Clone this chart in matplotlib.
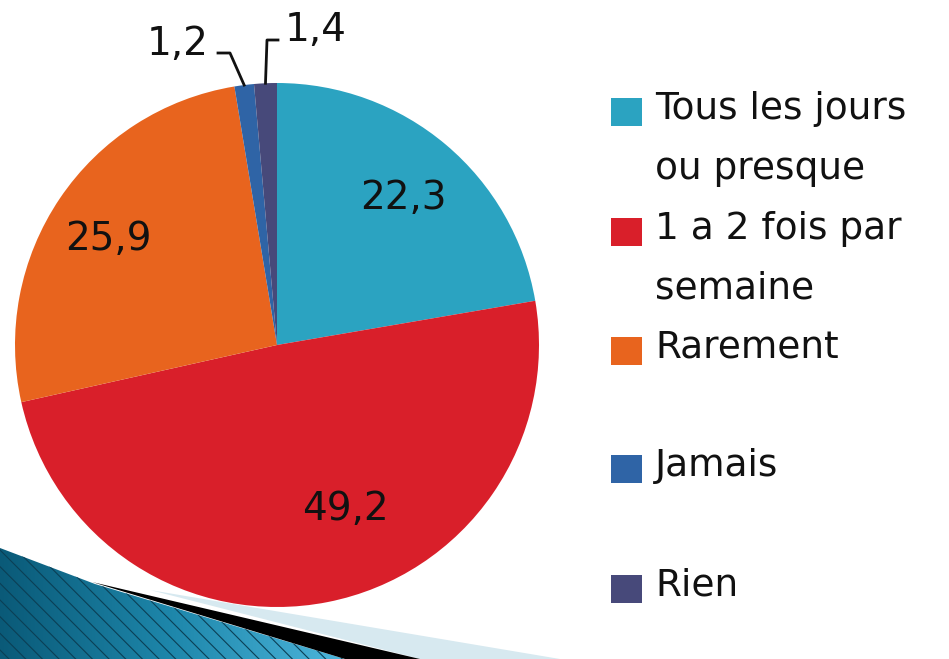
import numpy as np
import matplotlib.pyplot as plt
from matplotlib.patches import Polygon, Rectangle
from matplotlib.colors import LinearSegmentedColormap

plt.rcParams['font.family'] = ['DejaVu Sans']

# données
categories = ['Tous les jours\nou presque', '1 a 2 fois par\nsemaine', 'Rarement', 'Jamais', 'Rien']
values = [22.3, 49.2, 25.9, 1.2, 1.4]
colors = ['#2ba3c1', '#d91f2a', '#e8641e', '#2f64a6', '#47497a']

W, H = 949, 659
fig = plt.figure(figsize=(W / 100, H / 100), dpi=100)
ax = fig.add_axes([0, 0, 1, 1])

# centre et rayon du camembert (pixels)
cx, cy, r = 277, H - 345, 262

fmt = lambda v: f'{v:.1f}'.replace('.', ',')
wedges, texts = ax.pie(
    values, colors=colors, startangle=90, counterclock=False,
    center=(cx, cy), radius=r, frame=True,
    wedgeprops=dict(linewidth=0))

# étiquettes dans les grandes parts (décalage d'angle en degrés, distance relative)
place = {0: (-0.7, 0.74), 1: (11.5, 0.68), 2: (1.8, 0.76)}
for i, w in enumerate(wedges[:3]):
    da, d = place[i]
    theta = np.deg2rad((w.theta1 + w.theta2) / 2 + da)
    x = cx + d * r * np.cos(theta)
    y = cy + d * r * np.sin(theta)
    ax.text(x, y, fmt(values[i]), ha='center', va='center', fontsize=28, color='#111111')

# petites parts : traits de rappel
leaders = {3: [(230, 53), (218, 53)], 4: [(267, 40), (278, 40)]}
label_pos = {3: (209, 44, 'right'), 4: (285, 30, 'left')}
for i in (3, 4):
    w = wedges[i]
    theta = np.deg2rad((w.theta1 + w.theta2) / 2)
    px, py = cx + r * np.cos(theta), cy + r * np.sin(theta)
    pts = [(px, py)] + [(x, H - y) for x, y in leaders[i]]
    ax.plot([p[0] for p in pts], [p[1] for p in pts], color='#111111', lw=2)
    lx, ly, ha = label_pos[i]
    ax.text(lx, H - ly, fmt(values[i]), ha=ha, va='center', fontsize=28, color='#111111')

# légende
legend_y = [98, 218, 337, 455, 575]
for lab, col, y0 in zip(categories, colors, legend_y):
    ax.add_patch(Rectangle((611, H - y0 - 28), 31, 28, color=col, lw=0))
    ax.text(655, H - y0 + 7, lab, ha='left', va='top', fontsize=27,
            color='#111111', linespacing=1.85)

# décor bas gauche
ax.add_patch(Polygon([(150, H - 590), (560, H - 659), (420, H - 659)],
                     closed=True, color='#d7e9f0', lw=0))
shape = [(0, H - 548), (95, H - 584), (345, H - 659), (0, H - 659)]
blue = Polygon(shape, closed=True, lw=0, facecolor='none')
ax.add_patch(blue)
grad = np.linspace(0, 1, 256).reshape(1, -1)
cmap = LinearSegmentedColormap.from_list('b', ['#0a5a78', '#1e87ab', '#4db6dc'])
im = ax.imshow(grad, cmap=cmap, extent=(0, 345, 0, H - 548), aspect='auto', zorder=1)
im.set_clip_path(blue)
plt.rcParams['hatch.linewidth'] = 0.8
ax.add_patch(Polygon(shape, closed=True, facecolor='none', edgecolor='#0b3f55',
                     hatch='\\\\', lw=0, zorder=2))
ax.add_patch(Polygon([(92, H - 582), (420, H - 659), (345, H - 659)],
                     closed=True, color='black', lw=0, zorder=3))

ax.set_xlim(0, W)
ax.set_ylim(0, H)
ax.axis('off')

fig.savefig('out.png', dpi=100)
